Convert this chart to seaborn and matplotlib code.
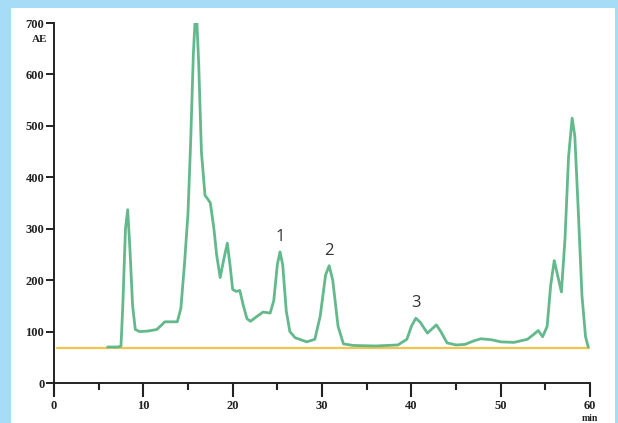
import numpy as np
import pandas as pd
import matplotlib
matplotlib.use("Agg")
import matplotlib.pyplot as plt
from matplotlib.patches import Rectangle
from matplotlib.ticker import MultipleLocator
import seaborn as sns

# chromatogram trace (time in min, signal in AE)
time_min = [6.0, 7.2, 7.5, 7.7, 8.0, 8.25, 8.5, 8.8, 9.1, 9.6, 10.5, 11.5, 12.0, 12.4,
            13.8, 14.2, 14.6, 15.0, 15.3, 15.6, 15.9, 16.2, 16.5, 16.9, 17.2, 17.5,
            17.9, 18.2, 18.6, 19.0, 19.4, 19.7, 20.0, 20.4, 20.8, 21.2, 21.6, 22.0,
            22.6, 23.4, 24.2, 24.6, 25.0, 25.3, 25.6, 26.0, 26.4, 27.0, 28.3, 29.2,
            29.8, 30.4, 30.8, 31.2, 31.8, 32.4, 33.5, 36.0, 38.5, 39.5, 40.0, 40.5,
            41.0, 41.8, 42.3, 42.8, 43.3, 44.0, 45.0, 46.0, 47.0, 47.8, 49.0, 50.0,
            51.5, 53.0, 53.8, 54.2, 54.7, 55.2, 55.6, 56.0, 56.3, 56.8, 57.2, 57.6,
            58.0, 58.3, 58.7, 59.1, 59.5, 59.8]
signal_ae = [70, 70, 72, 150, 300, 337, 260, 150, 104, 100, 101, 104, 112, 119,
             119, 145, 230, 330, 470, 640, 740, 620, 450, 365, 358, 350,
             300, 250, 205, 240, 272, 230, 182, 178, 180, 150, 125, 120,
             128, 138, 136, 160, 230, 255, 230, 140, 100, 88, 80, 85,
             130, 210, 228, 200, 110, 76, 73, 72, 74, 85, 110, 126,
             118, 97, 105, 113, 100, 78, 74, 75, 82, 86, 84, 80,
             79, 85, 96, 102, 90, 110, 190, 238, 215, 177, 280, 440,
             515, 480, 330, 170, 90, 70]

# baseline drawn under the trace
base_time = [0.3, 60.0]
base_ae = [68, 68]

# numbered peaks
peak_labels = ["1", "2", "3"]
peak_times = [25.3, 30.8, 40.5]

x_ticks = [0, 10, 20, 30, 40, 50, 60]
y_ticks = [0, 100, 200, 300, 400, 500, 600, 700]

trace = pd.DataFrame({"time": time_min, "ae": signal_ae})
base = pd.DataFrame({"time": base_time, "ae": base_ae})

sns.set_theme(style="ticks")
plt.rcParams["font.family"] = ["Liberation Serif", "DejaVu Serif"]

fig = plt.figure(figsize=(6.18, 4.23), dpi=100)
fig.patch.set_facecolor("#a7dcf7")
fig.patches.append(Rectangle((11 / 618, 0), 604 / 618, 415 / 423,
                             transform=fig.transFigure, facecolor="white",
                             edgecolor="none", zorder=-1))

ax = fig.add_axes([54 / 618, 40 / 423, 536 / 618, 360 / 423])
ax.set_facecolor("none")

sns.lineplot(data=base, x="time", y="ae", ax=ax, color="#f3c44a", lw=1.6,
             estimator=None)
sns.lineplot(data=trace, x="time", y="ae", ax=ax, color="#63b98c", lw=2.0,
             estimator=None)

ax.set_xlim(0, 60)
ax.set_ylim(0, 700)
ax.set_xticks(x_ticks)
ax.set_yticks(y_ticks)
ax.xaxis.set_minor_locator(MultipleLocator(5))
ax.set_xlabel("")
ax.set_ylabel("")

for side in ["top", "right"]:
    ax.spines[side].set_visible(False)
for side in ["left", "bottom"]:
    ax.spines[side].set_color("#222222")
    ax.spines[side].set_linewidth(1.4)

ax.tick_params(axis="x", which="major", direction="out", length=10, width=1.5,
               color="#222222", pad=2.5)
ax.tick_params(axis="x", which="minor", direction="out", length=5, width=1.5,
               color="#222222")
ax.tick_params(axis="y", which="major", direction="out", length=6, width=1.4,
               color="#222222", pad=1)
for lab in ax.get_xticklabels() + ax.get_yticklabels():
    lab.set_fontsize(9)
    lab.set_fontweight("bold")
    lab.set_color("#222222")

# unit labels
ax.text(-0.026, 0.953, "AE", transform=ax.transAxes, ha="center", va="center",
        fontsize=8, fontweight="bold", color="#222222")
ax.text(1.0, -0.086, "min", transform=ax.transAxes, ha="center", va="top",
        fontsize=7, fontweight="bold", color="#222222")

# peak numbers above their peaks
for lab, t in zip(peak_labels, peak_times):
    top = np.interp(t, time_min, signal_ae)
    ax.annotate(lab, xy=(t, top), xytext=(0, 5), textcoords="offset points",
                ha="center", va="bottom", fontsize=12, color="#333333",
                family=["Open Sans", "DejaVu Sans"])

fig.savefig("out.png", dpi=100, facecolor=fig.get_facecolor())
